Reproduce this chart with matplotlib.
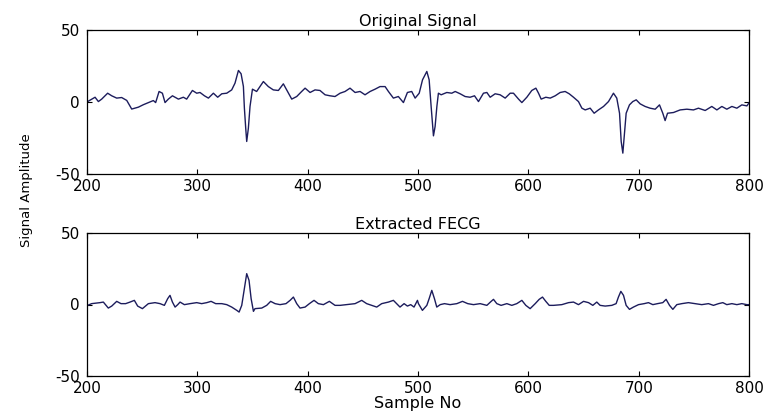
import matplotlib
matplotlib.use("Agg")
import matplotlib.pyplot as plt

# original (mixed) signal
orig_x = [200, 200.6, 207.3, 210.3, 213.3, 218.7, 222.4, 226.9, 231.4, 236, 240.5,
          246.5, 251, 255.6, 260.1, 262.2, 265.3, 268.3, 270.7, 273.7, 277.4,
          282.8, 287.3, 290.3, 295.5, 299.4, 302.4, 306.4, 310, 314.5, 318.4,
          322.1, 326.6, 331.1, 334.1, 337.2, 339.6, 341.7, 342.6, 343.8, 344.7,
          346.2, 347.7, 349.9, 353.7, 359.8, 364.3, 368.8, 373.4, 377.9, 380.9,
          385.5, 390, 394.5, 397.6, 402.1, 406.6, 411.1, 415.7, 420.2, 424.7,
          429.3, 433.8, 438.3, 442.9, 447.4, 451.9, 456.5, 461, 465.5, 470.1,
          473.1, 477.6, 482.1, 486.7, 490.3, 494.2, 497.3, 501, 504, 507.9,
          510, 511.8, 513.9, 515.4, 517, 518.4, 520.9, 526, 530.5, 533.6,
          538.1, 542.6, 547.1, 551.1, 554.7, 559.2, 562.3, 565.3, 569.8, 574.3,
          578.9, 583.4, 586.4, 591, 594, 598.5, 603, 606.7, 609.1, 611.5,
          615.7, 619.7, 624.2, 628.7, 633.2, 636.9, 640.8, 645.3, 648.4, 651.4,
          655.9, 659.5, 663.4, 668, 672.5, 677, 680, 682.5, 684, 685.5,
          687, 688.5, 691.5, 694.5, 697.6, 701.2, 705.7, 710.2, 714.8, 718.7,
          721.7, 723.8, 726, 731.4, 737.4, 743.5, 749.5, 754, 760.1, 766.1,
          770.7, 775.2, 779.7, 784.3, 788.8, 793.3, 797.9, 800]
orig_y = [1, 0.2, 3.2, 0.2, 1.9, 6, 4.2, 2.6, 3, 1, -5,
          -3.7, -2, -0.5, 0.9, -0.5, 7.2, 6, -0.5, 1.9, 4.2,
          1.9, 3.2, 1.9, 7.9, 6, 6.5, 4.2, 2.6, 6, 3.2,
          5.6, 6, 8.3, 13, 21.8, 19.5, 10.7, -4.4, -18.3, -27.5,
          -18.3, -3.2, 8.8, 7.2, 14.1, 10.6, 8.3, 7.9, 12.5, 8.3,
          1.9, 3.7, 7.2, 9.5, 6.5, 8.3, 7.9, 4.9, 4.2, 3.7,
          6, 7.2, 9.5, 6.5, 7.2, 4.9, 7.2, 8.8, 10.6, 10.6,
          7.2, 2.6, 3.7, -0.5, 6.5, 7.2, 2.6, 6, 15.3, 21.1,
          15.3, -3.2, -23.6, -17.1, -3.2, 6, 4.9, 6.5, 6, 7.2,
          5.6, 3.7, 3.2, 4.2, 0.2, 6, 6.5, 3.2, 5.6, 4.9,
          2.6, 6, 6, 1.9, -0.5, 3.2, 7.9, 9.5, 6, 1.9,
          3.2, 2.6, 4.2, 6.5, 7.2, 5.6, 3.2, 0.2, -4.4, -5.6,
          -4.4, -7.9, -5.6, -3.2, 0.2, 6, 2.6, -7.9, -27.5, -35.6,
          -21.8, -7.9, -2.1, 0.2, 1.4, -1.4, -3.2, -4.4, -5.1, -2.1,
          -7.9, -13, -7.9, -7.4, -5.6, -5.1, -5.6, -4.4, -6, -3.2,
          -5.6, -3.2, -5.1, -3.2, -4.4, -2.1, -2.8, -0.5]

# extracted fetal ECG
fecg_x = [200, 200.6, 204.2, 211.8, 214.8, 219.3, 222.4, 226.9, 230.8, 235, 239,
          242.9, 245.9, 250.2, 255.6, 261.6, 266.2, 270.1, 273.1, 275.2, 277.4,
          279.8, 282.2, 284.3, 288.2, 293.4, 299.4, 303.9, 308.5, 312.4, 316.6,
          322.1, 326.6, 331.1, 335.7, 337.8, 340.2, 342.6, 344.7, 346.8, 348.7,
          350.8, 352.2, 358.3, 362.8, 366.4, 370.4, 374.9, 380.3, 384, 387,
          390, 393, 397.6, 401.5, 405.7, 409.6, 414.2, 419.6, 424.7, 429.3,
          435.3, 442.9, 448.9, 453.4, 457.9, 462.5, 467, 473.1, 477.6, 480.6,
          483.6, 487.3, 490.3, 493.3, 496.3, 499.4, 500.3, 503.9, 507.9, 510,
          512.4, 514.8, 516.9, 520, 523.9, 529, 535.1, 540.2, 545, 550.2,
          556.2, 562.3, 566.2, 568.3, 571.3, 575.2, 580.4, 584.9, 589.4, 594,
          597.6, 601.5, 606.1, 609.7, 612.7, 615.7, 618.8, 622.7, 630.2, 636.3,
          640.8, 645.3, 649.9, 654.4, 658.3, 661.9, 664.9, 669.5, 675.5, 679.4,
          681.5, 683.7, 686.1, 688.5, 691.5, 695.1, 699.7, 704.8, 708.7, 712.7,
          716.9, 721.7, 724.7, 727.8, 730.8, 734.4, 738.9, 744.9, 751, 757,
          763.1, 767.6, 772.2, 776.1, 779.7, 784.3, 788.8, 793.3, 797.9, 800]
fecg_y = [-1, -0.6, 0.6, 1.3, 1.7, -2.5, -1.1, 2.2, 0.6, 0.6, 1.7,
          2.9, -1.1, -2.9, 0.6, 1.3, 0.6, -0.6, 4.1, 6.4, 1.7,
          -1.8, -0.1, 1.7, -0.1, 0.6, 1.3, 0.6, 1.3, 2.2, 0.6,
          0.6, -0.1, -1.8, -4.1, -5.3, -0.6, 11, 21.6, 16.9, 4.1,
          -4.8, -2.9, -2.5, -0.6, 2.2, 0.6, -0.1, 0.6, 2.9, 5.2,
          0.6, -2.5, -1.8, 0.6, 2.9, 0.6, -0.1, 2.2, -0.6, -0.6,
          -0.1, 0.6, 2.9, 0.6, -0.6, -1.8, 0.6, 1.7, 2.9, 0.6,
          -1.8, 0.6, -1.1, -0.1, -1.8, 2.9, 0.6, -4.1, -0.6, 4.1,
          9.9, 4.1, -1.8, -0.1, 0.6, -0.1, 0.6, 2.2, 0.6, -0.1,
          0.6, -0.6, 2.2, 3.6, 0.6, -0.6, 0.6, -0.6, 0.6, 2.9,
          -0.6, -2.9, 0.6, 3.6, 5.2, 2.2, -0.6, -0.6, -0.1, 1.3,
          1.7, -0.1, 2.2, 1.3, -0.6, 1.7, -0.6, -1.1, -0.6, 0.6,
          5.2, 9.2, 6.4, -0.6, -3.4, -1.8, -0.1, 0.6, 1.3, -0.1,
          0.6, 1.3, 3.6, -0.6, -3.4, -0.1, 0.6, 1.3, 0.6, -0.1,
          0.6, -0.6, 0.6, 1.3, -0.1, 0.6, -0.1, 0.6, -0.1, -0.1]

x_ticks = [200, 300, 400, 500, 600, 700, 800]
y_ticks = [-50, 0, 50]
line_color = "#1c1c5c"

plt.rcParams["font.family"] = ["DejaVu Sans"]
plt.rcParams["axes.unicode_minus"] = False

fig = plt.figure(figsize=(7.7, 4.2), dpi=100)
ax1 = fig.add_axes([0.113, 0.586, 0.860, 0.343])
ax2 = fig.add_axes([0.113, 0.105, 0.860, 0.340])

for ax, xs, ys, title in [(ax1, orig_x, orig_y, "Original Signal"),
                          (ax2, fecg_x, fecg_y, "Extracted FECG")]:
    ax.plot(xs, ys, color=line_color, linewidth=1.0)
    ax.set_xlim(200, 800)
    ax.set_ylim(-50, 50)
    ax.set_xticks(x_ticks)
    ax.set_yticks(y_ticks)
    ax.tick_params(direction="in", length=3.5, width=0.8, top=True, right=True,
                   labelsize=11, colors="black")
    ax.tick_params(axis="x", pad=4)
    ax.tick_params(axis="y", pad=5)
    for s in ax.spines.values():
        s.set_linewidth(0.9)
    ax.set_title(title, fontsize=11.5, pad=3)

ax2.set_xlabel("Sample No", fontsize=11.5, labelpad=0)
fig.text(0.035, 0.548, "Signal Amplitude", rotation=90, fontsize=9.5,
         ha="center", va="center")

fig.savefig("out.png", dpi=100, facecolor="white")
